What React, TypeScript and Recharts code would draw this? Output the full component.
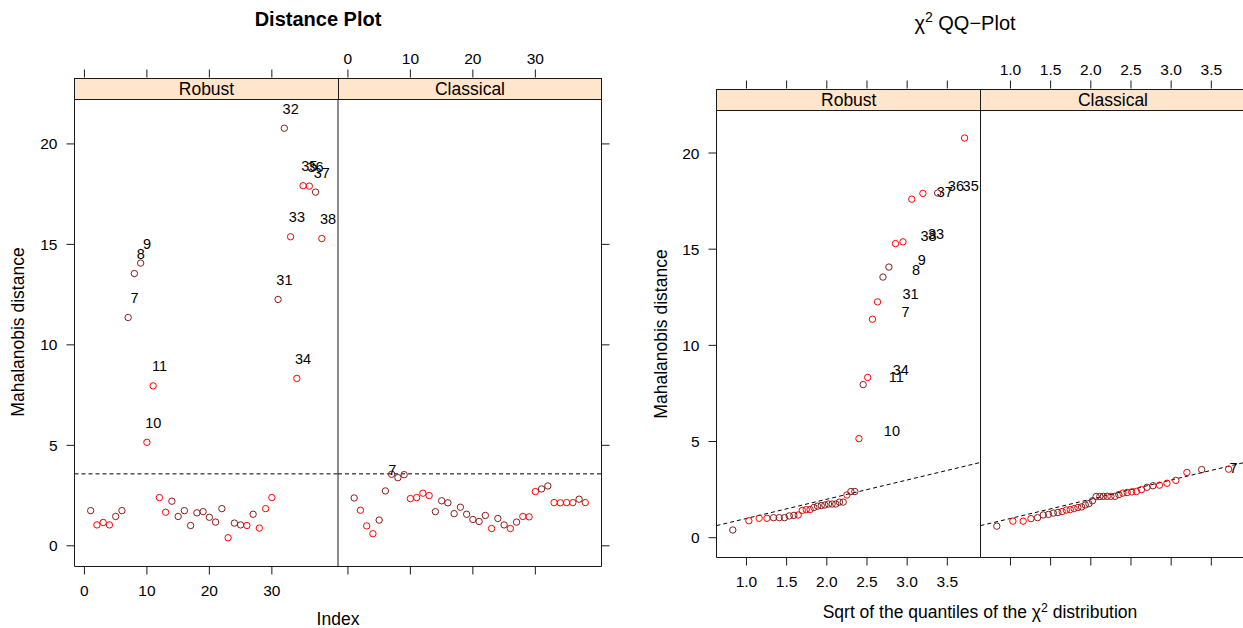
import { ScatterChart, Scatter, XAxis, YAxis, ReferenceLine } from 'recharts';

const PAGE_W = 1243;
const PAGE_H = 628;
const FONT = '"Liberation Sans", Arial, Helvetica, sans-serif';
const AXIS = '#1a1a1a';
const DARK = '#8B1A1A';
const RED = '#FF0000';
const STRIP_BG = '#FFE5CC';
const TICK = 8;

// observation numbers (bushfire data, 38 obs)
const obsIds = [
  1, 2, 3, 4, 5, 6, 7, 8, 9, 10, 11, 12, 13, 14, 15, 16, 17, 18, 19,
  20, 21, 22, 23, 24, 25, 26, 27, 28, 29, 30, 31, 32, 33, 34, 35, 36, 37, 38,
];

// robust Mahalanobis distances, by observation
const robustDist = [
  1.75, 1.04, 1.16, 1.04, 1.46, 1.75, 11.36, 13.55, 14.07, 5.15, 7.96, 2.40, 1.67,
  2.22, 1.46, 1.75, 1.01, 1.64, 1.70, 1.42, 1.18, 1.85, 0.40, 1.13, 1.04, 1.01,
  1.57, 0.88, 1.85, 2.40, 12.26, 20.78, 15.38, 8.33, 17.92, 17.90, 17.60, 15.29,
];

// classical Mahalanobis distances, by observation
const classicalDist = [
  2.38, 1.77, 0.99, 0.60, 1.28, 2.73, 3.56, 3.39, 3.54, 2.35, 2.40, 2.62, 2.50,
  1.70, 2.24, 2.14, 1.60, 1.92, 1.57, 1.31, 1.21, 1.51, 0.86, 1.36, 1.04, 0.86,
  1.18, 1.46, 1.44, 2.70, 2.83, 2.98, 2.15, 2.14, 2.15, 2.15, 2.32, 2.15,
];

// sqrt of chi^2(5) quantiles, by rank
const chiQuantiles = [
  0.830, 1.030, 1.158, 1.255, 1.337, 1.408, 1.473, 1.533, 1.590, 1.644, 1.695,
  1.744, 1.792, 1.839, 1.885, 1.931, 1.976, 2.021, 2.066, 2.112, 2.157, 2.204,
  2.250, 2.300, 2.349, 2.400, 2.453, 2.509, 2.568, 2.631, 2.699, 2.773, 2.855,
  2.948, 3.058, 3.196, 3.380, 3.715,
];

// point colour by plotting position (D = dark red, R = red)
const pointColors = [
  'D', 'R', 'R', 'R', 'D', 'D', 'D', 'D', 'D', 'R', 'R', 'R', 'R', 'D', 'D', 'D',
  'D', 'D', 'D', 'D', 'D', 'D', 'R', 'D', 'D', 'R', 'D', 'R', 'R', 'R', 'D', 'D',
  'R', 'R', 'R', 'R', 'D', 'R',
];

const robustLabelIds = [7, 8, 9, 10, 11, 31, 32, 33, 34, 35, 36, 37, 38];
const classicalLabelIds = [7];
const qqRobustLabelIds = [7, 8, 9, 10, 11, 31, 33, 34, 35, 36, 37, 38];
const qqClassicalLabelIds = [7];

const cutoff = 3.58;
const indexTicks = [0, 10, 20, 30];
const distTicks = [0, 5, 10, 15, 20];
const quantileTicks = [1.0, 1.5, 2.0, 2.5, 3.0, 3.5];

type Pt = { x: number; y: number; color: string; label: string };

const colorOf = (i: number) => (pointColors[i] === 'D' ? DARK : RED);

const distancePoints = (dist: number[], labelIds: number[]): Pt[] =>
  obsIds.map((id, i) => ({
    x: id,
    y: dist[i],
    color: colorOf(i),
    label: labelIds.includes(id) ? String(id) : '',
  }));

const qqPoints = (dist: number[], labelIds: number[]): Pt[] => {
  const order = obsIds.map((_, i) => i).sort((a, b) => dist[a] - dist[b]);
  return order.map((k, r) => ({
    x: chiQuantiles[r],
    y: dist[k],
    color: colorOf(r),
    label: labelIds.includes(obsIds[k]) ? String(obsIds[k]) : '',
  }));
};

interface PanelProps {
  left: number;
  top: number;
  width: number;
  height: number;
  stripH: number;
  xDomain: [number, number];
  yDomain: [number, number];
  xTicks: number[];
  yTicks: number[];
  fmt: (v: number) => string;
  data: Pt[];
  bottomLabels: boolean;
  topLabels: boolean;
  leftLabels: boolean;
  rightTicks: boolean;
  labelDx: number;
  labelDy: number;
  cutoff?: number;
  diagonal?: boolean;
}

const Empty = () => <g />;
const tickText = { fill: '#000', fontSize: 15.5, fontFamily: FONT };
const CHART_W = PAGE_W + 20;

// The top axis sits above the strip. It is drawn as a bottom-oriented axis of a
// second chart whose plot area ends where the tick marks start.
function TopAxis(p: PanelProps) {
  const stripTop = p.top - p.stripH;
  const axisY = stripTop - TICK;
  const label = (t: any) =>
    p.topLabels ? (
      <text x={t.x} y={axisY - 11} textAnchor="middle" dominantBaseline="central"
        fontSize={15.5} fontFamily={FONT} fill="#000">
        {p.fmt(t.payload.value)}
      </text>
    ) : (
      <g />
    );
  return (
    <div style={{ position: 'absolute', left: 0, top: 0 }}>
      <ScatterChart width={CHART_W} height={PAGE_H}
        margin={{ left: p.left, top: 0, right: CHART_W - p.left - p.width, bottom: PAGE_H - axisY - 1 }}>
        <XAxis type="number" dataKey="x" domain={p.xDomain} ticks={p.xTicks} interval={0}
          allowDataOverflow height={1} axisLine={false} tickLine={{ stroke: AXIS }}
          tickSize={TICK} tickMargin={0} tick={label} />
        <YAxis hide type="number" dataKey="y" domain={p.yDomain} allowDataOverflow />
        <Scatter data={p.data} shape={Empty} isAnimationActive={false} />
      </ScatterChart>
    </div>
  );
}

function Panel(p: PanelProps) {
  // axes get 1px boxes (a 0-sized axis is not drawn)
  const margin = {
    left: p.left - 1,
    top: p.top,
    right: CHART_W - p.left - p.width - (p.rightTicks ? 1 : 0),
    bottom: PAGE_H - p.top - p.height - 1,
  };

  const shape = (s: any) => (
    <g>
      <circle cx={s.cx} cy={s.cy} r={3.2} fill="none" stroke={s.payload.color} strokeWidth={1} />
      {s.payload.label && (
        <text x={s.cx + p.labelDx} y={s.cy + p.labelDy} textAnchor="middle" dominantBaseline="central"
          fontSize={14.5} fontFamily={FONT} fill="#000">
          {s.payload.label}
        </text>
      )}
    </g>
  );

  return (
    <>
      <div style={{ position: 'absolute', left: 0, top: 0 }}>
        <ScatterChart width={CHART_W} height={PAGE_H} margin={margin}>
          <XAxis type="number" dataKey="x" domain={p.xDomain} ticks={p.xTicks} interval={0}
            allowDataOverflow height={1} axisLine={{ stroke: AXIS }} tickLine={{ stroke: AXIS }}
            tickSize={TICK} tickMargin={10} tickFormatter={p.fmt}
            tick={p.bottomLabels ? tickText : Empty} />
          <YAxis type="number" dataKey="y" domain={p.yDomain} ticks={p.yTicks} interval={0}
            allowDataOverflow width={1} axisLine={{ stroke: AXIS }}
            tickLine={p.leftLabels ? { stroke: AXIS } : false}
            tickSize={TICK} tickMargin={9} tick={p.leftLabels ? tickText : Empty} />
          {p.rightTicks && (
            <YAxis yAxisId="right" orientation="right" type="number" domain={p.yDomain} ticks={p.yTicks}
              interval={0} allowDataOverflow width={1} axisLine={{ stroke: AXIS }}
              tickLine={{ stroke: AXIS }} tickSize={TICK} tick={Empty} />
          )}
          {p.cutoff !== undefined && (
            <ReferenceLine y={p.cutoff} stroke="#000" strokeDasharray="4 3" strokeWidth={1} />
          )}
          {p.diagonal && (
            <ReferenceLine
              segment={[
                { x: p.xDomain[0], y: p.xDomain[0] },
                { x: p.xDomain[1], y: p.xDomain[1] },
              ]}
              stroke="#000" strokeDasharray="4 3" strokeWidth={1} />
          )}
          <Scatter data={p.data} shape={shape} isAnimationActive={false} />
        </ScatterChart>
      </div>
      <TopAxis {...p} />
    </>
  );
}

function Strip({ left, top, width, height, text }: { left: number; top: number; width: number; height: number; text: string }) {
  return (
    <div style={{
      position: 'absolute', left, top, width, height, boxSizing: 'border-box',
      border: `1px solid ${AXIS}`, background: STRIP_BG, textAlign: 'center',
      fontSize: 17.5, lineHeight: `${height - 2}px`, color: '#000',
    }}>
      {text}
    </div>
  );
}

function Label({ x, y, children, size = 17.5, bold = false, rotate = false }: any) {
  return (
    <div style={{
      position: 'absolute', left: x, top: y, whiteSpace: 'nowrap',
      transform: `translate(-50%, -50%)${rotate ? ' rotate(-90deg)' : ''}`,
      fontSize: size, fontWeight: bold ? 700 : 400, color: '#000',
    }}>
      {children}
    </div>
  );
}

const fmtInt = (v: number) => String(v);
const fmtOne = (v: number) => v.toFixed(1);

export default function App() {
  const distYDomain: [number, number] = [-1.03, 22.21];
  const idxDomain: [number, number] = [-1.59, 40.59];
  const qDomain: [number, number] = [0.627, 3.913];

  const L = { top: 99.5, height: 467, stripH: 22 };
  const R = { top: 110.5, height: 447, stripH: 22 };

  return (
    <div style={{
      position: 'absolute', left: 0, top: 0, width: PAGE_W, height: PAGE_H,
      overflow: 'hidden', background: '#fff', fontFamily: FONT,
    }}>
      {/* left: distance plot */}
      <Panel left={74.5} width={263.5} {...L} xDomain={idxDomain} yDomain={distYDomain}
        xTicks={indexTicks} yTicks={distTicks} fmt={fmtInt}
        data={distancePoints(robustDist, robustLabelIds)}
        bottomLabels topLabels={false} leftLabels rightTicks={false}
        labelDx={6.3} labelDy={-19.5} cutoff={cutoff} />
      <Panel left={338} width={263.5} {...L} xDomain={idxDomain} yDomain={distYDomain}
        xTicks={indexTicks} yTicks={distTicks} fmt={fmtInt}
        data={distancePoints(classicalDist, classicalLabelIds)}
        bottomLabels={false} topLabels leftLabels={false} rightTicks
        labelDx={0.7} labelDy={-4.3} cutoff={cutoff} />

      {/* right: chi-square QQ plot */}
      <Panel left={716.5} width={264} {...R} xDomain={qDomain} yDomain={distYDomain}
        xTicks={quantileTicks} yTicks={distTicks} fmt={fmtOne}
        data={qqPoints(robustDist, qqRobustLabelIds)}
        bottomLabels topLabels={false} leftLabels rightTicks={false}
        labelDx={33} labelDy={-7.5} diagonal />
      <Panel left={980.5} width={264} {...R} xDomain={qDomain} yDomain={distYDomain}
        xTicks={quantileTicks} yTicks={distTicks} fmt={fmtOne}
        data={qqPoints(classicalDist, qqClassicalLabelIds)}
        bottomLabels={false} topLabels leftLabels={false} rightTicks
        labelDx={5} labelDy={-1} diagonal />

      <Strip left={74} top={77.5} width={265} height={22.5} text="Robust" />
      <Strip left={338} top={77.5} width={264} height={22.5} text="Classical" />
      <Strip left={716} top={88.5} width={265.5} height={22.5} text="Robust" />
      <Strip left={980} top={88.5} width={266} height={22.5} text="Classical" />

      <Label x={318} y={19} size={20} bold>Distance Plot</Label>
      <Label x={338} y={619}>Index</Label>
      <Label x={18} y={332} rotate>Mahalanobis distance</Label>

      <Label x={965} y={22} size={20}>
        χ<sup style={{ fontSize: '0.7em' }}>2</sup> QQ−Plot
      </Label>
      <Label x={980} y={612}>
        Sqrt of the quantiles of the χ<sup style={{ fontSize: '0.7em' }}>2</sup> distribution
      </Label>
      <Label x={661} y={334} rotate>Mahalanobis distance</Label>
    </div>
  );
}
